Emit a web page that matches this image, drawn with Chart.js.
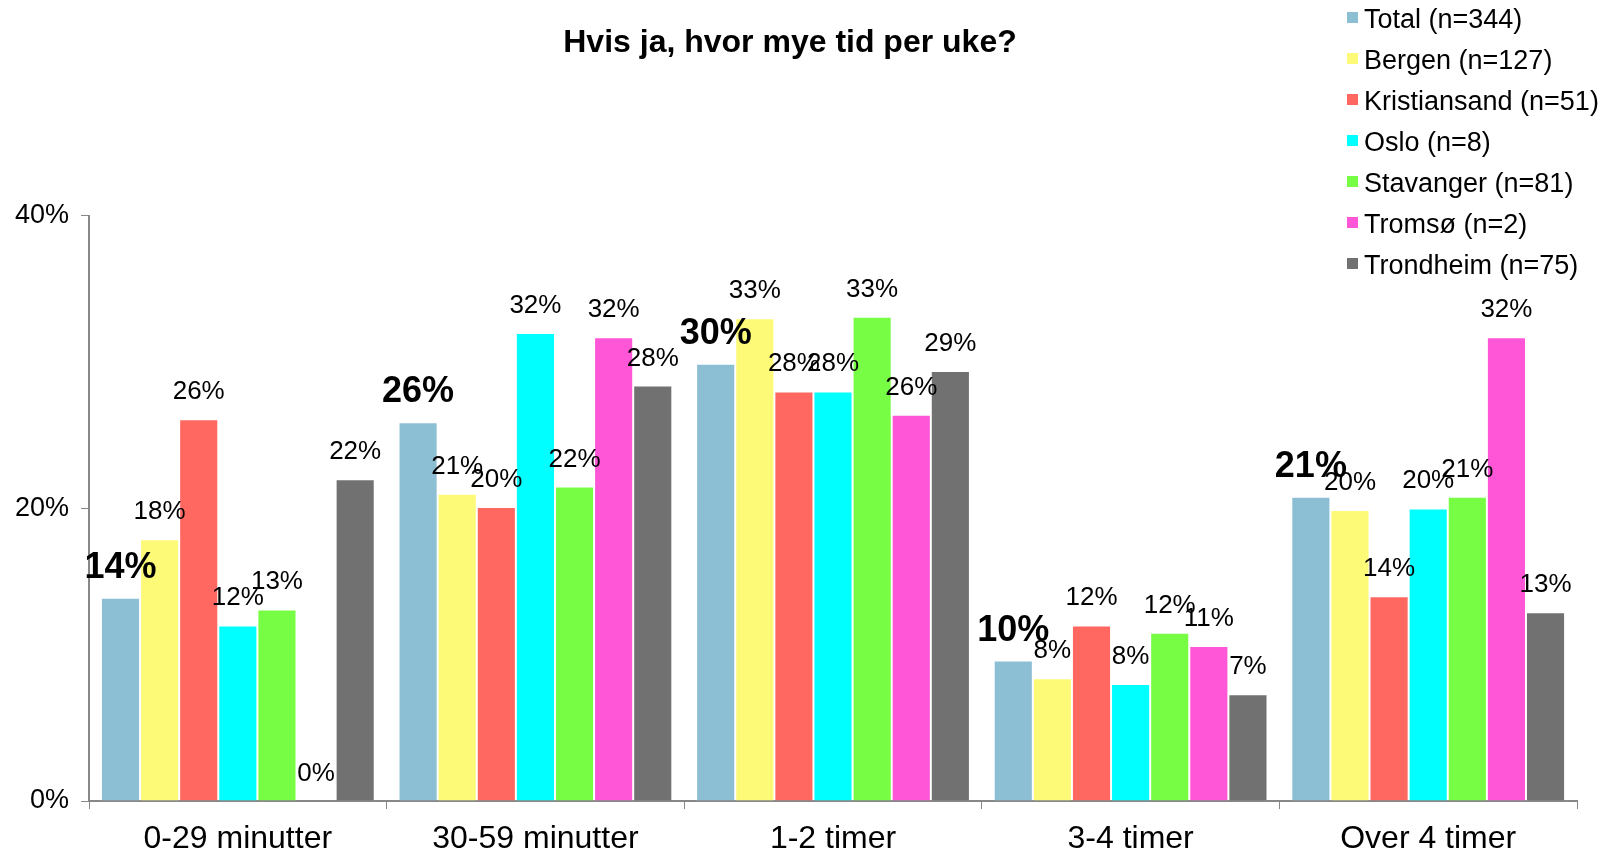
<!DOCTYPE html>
<html>
<head>
<meta charset="utf-8">
<script src="https://cdn.jsdelivr.net/npm/chart.js@4.4.1/dist/chart.umd.min.js"></script>
<style>
  html, body { margin: 0; padding: 0; background: #fff; }
  #wrap { width: 1604px; height: 851px; position: relative; }
</style>
</head>
<body>
<div id="wrap"><canvas id="chart" width="1604" height="851"></canvas></div>
<script>
var categories = ['0-29 minutter', '30-59 minutter', '1-2 timer', '3-4 timer', 'Over 4 timer'];
var seriesNames = ['Total (n=344)', 'Bergen (n=127)', 'Kristiansand (n=51)', 'Oslo (n=8)', 'Stavanger (n=81)', 'Tromsø (n=2)', 'Trondheim (n=75)'];
var seriesColors = ['#8cbed4', '#fdfa78', '#ff6861', '#00ffff', '#77fd44', '#ff56d8', '#717171'];

var total        = [13.9, 25.9, 29.9, 9.6, 20.8];
var bergen       = [17.9, 21.0, 33.0, 8.4, 19.9];
var kristiansand = [26.1, 20.1, 28.0, 12.0, 14.0];
var oslo         = [12.0, 32.0, 28.0, 8.0, 20.0];
var stavanger    = [13.1, 21.5, 33.1, 11.5, 20.8];
var tromso       = [0, 31.7, 26.4, 10.6, 31.7];
var trondheim    = [22.0, 28.4, 29.4, 7.3, 12.9];

var yTicks = [0, 20, 40];

var allSeries = [total, bergen, kristiansand, oslo, stavanger, tromso, trondheim];
var FONT = '"Liberation Sans", Arial, Helvetica, sans-serif';

var datasets = [];
for (var i = 0; i < allSeries.length; i++) {
    datasets.push({
        label: seriesNames[i],
        data: allSeries[i],
        backgroundColor: seriesColors[i],
        borderColor: 'rgba(255,255,255,0.35)',
        borderWidth: 1,
        borderSkipped: 'bottom'
    });
}

// value labels above each bar, Total in big bold
var valueLabels = {
    id: 'valueLabels',
    afterDatasetsDraw: function (chart) {
        var ctx = chart.ctx;
        ctx.save();
        ctx.fillStyle = '#000';
        ctx.textAlign = 'center';
        ctx.textBaseline = 'alphabetic';
        chart.data.datasets.forEach(function (ds, di) {
            var meta = chart.getDatasetMeta(di);
            ctx.font = di == 0 ? 'bold 36px ' + FONT : '26px ' + FONT;
            meta.data.forEach(function (bar, j) {
                ctx.fillText(Math.round(ds.data[j]) + '%', bar.x, bar.y - 20);
            });
        });
        ctx.restore();
    }
};

// legend in the top right corner, one row per series
var cornerLegend = {
    id: 'cornerLegend',
    afterDraw: function (chart) {
        var ctx = chart.ctx;
        ctx.save();
        ctx.font = '27px ' + FONT;
        ctx.textBaseline = 'middle';
        ctx.textAlign = 'left';
        chart.data.datasets.forEach(function (ds, i) {
            var cy = 20 + i * 41;
            ctx.fillStyle = ds.backgroundColor;
            ctx.fillRect(1347, cy - 8, 11, 11);
            ctx.fillStyle = '#000';
            ctx.fillText(ds.label, 1364, cy + 1);
        });
        ctx.restore();
    }
};

myChart = new Chart(document.getElementById('chart'), {
    type: 'bar',
    data: { labels: categories, datasets: datasets },
    options: {
        responsive: false,
        animation: false,
        layout: { padding: { left: 3, right: 27, top: 0, bottom: 0 } },
        datasets: { bar: { categoryPercentage: 0.92, barPercentage: 1.0 } },
        plugins: {
            legend: { display: false },
            tooltip: { enabled: false },
            title: {
                display: true,
                text: 'Hvis ja, hvor mye tid per uke?',
                color: '#000',
                font: { family: FONT, size: 32, weight: 'bold' },
                padding: { top: 24, bottom: 153.5 }
            }
        },
        scales: {
            x: {
                afterFit: function (scale) { scale.height = 50; },
                grid: { display: true, drawOnChartArea: false, drawTicks: true, tickLength: 8, color: '#888', offset: true },
                border: { color: '#888', width: 2 },
                ticks: { color: '#000', font: { family: FONT, size: 32, lineHeight: 1.0 }, padding: 14, maxRotation: 0 }
            },
            y: {
                min: 0,
                max: 40,
                afterBuildTicks: function (scale) {
                    scale.ticks = yTicks.map(function (v) { return { value: v }; });
                },
                grid: { display: true, drawOnChartArea: false, drawTicks: true, tickLength: 8, color: '#888' },
                border: { color: '#888', width: 2 },
                ticks: {
                    color: '#000',
                    font: { family: FONT, size: 27 },
                    padding: 12,
                    callback: function (v) { return v + '%'; }
                }
            }
        }
    },
    plugins: [valueLabels, cornerLegend]
});
</script>
</body>
</html>
